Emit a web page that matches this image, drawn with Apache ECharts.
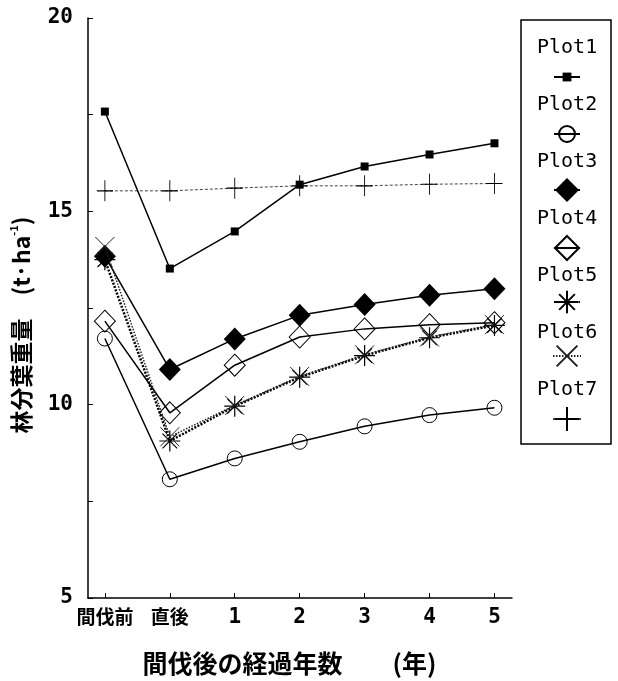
<!DOCTYPE html>
<html>
<head>
<meta charset="utf-8">
<script src="https://cdn.jsdelivr.net/npm/echarts@6/dist/echarts.min.js"></script>
<style>
  html, body { margin: 0; padding: 0; background: #fff; }
  #chart { width: 618px; height: 681px; }
</style>
</head>
<body>
<div id="chart"></div>
<script>
// Stand leaf biomass before and after thinning, by plot
const categories = ['間伐前', '直後', '1', '2', '3', '4', '5'];
const yTicks = [5, 10, 15, 20];

const plot1 = [17.58, 13.52, 14.48, 15.69, 16.16, 16.47, 16.76];
const plot2 = [11.71, 8.07, 8.61, 9.04, 9.44, 9.73, 9.92];
const plot3 = [13.84, 10.91, 11.70, 12.31, 12.59, 12.83, 13.00];
const plot4 = [12.16, 9.79, 11.02, 11.75, 11.96, 12.07, 12.12];
const plot5 = [13.75, 9.06, 9.96, 10.71, 11.27, 11.73, 12.05];
const plot6 = [14.09, 9.17, 9.98, 10.73, 11.29, 11.75, 12.07];
const plot7 = [15.53, 15.53, 15.60, 15.66, 15.66, 15.70, 15.72];

const seriesNames = ['Plot1', 'Plot2', 'Plot3', 'Plot4', 'Plot5', 'Plot6', 'Plot7'];
const seriesValues = [plot1, plot2, plot3, plot4, plot5, plot6, plot7];

const ASTERISK = 'path://M10,0L10,20M0,10L20,10M3,3L17,17M17,3L3,17';
const CROSS = 'path://M0,0L20,20M20,0L0,20';
const PLUS = 'path://M10,0L10,20M0,10L20,10';

const strokeOnly = { color: 'rgba(0,0,0,0)', borderColor: '#000', borderWidth: 1 };

// per-series marker and line look
const looks = [
  { symbol: 'rect', symbolSize: 8, itemStyle: { color: '#000' },
    lineStyle: { color: '#000', width: 1.5, type: 'solid' } },
  { symbol: 'circle', symbolSize: 15, itemStyle: strokeOnly,
    lineStyle: { color: '#000', width: 1.5, type: 'solid' } },
  { symbol: 'diamond', symbolSize: [22, 23], itemStyle: { color: '#000' },
    lineStyle: { color: '#000', width: 1.5, type: 'solid' } },
  { symbol: 'diamond', symbolSize: [21, 22], itemStyle: strokeOnly,
    lineStyle: { color: '#000', width: 1.5, type: 'solid' } },
  { symbol: ASTERISK, symbolSize: 21, itemStyle: { color: 'rgba(0,0,0,0)', borderColor: '#000', borderWidth: 1.2 },
    lineStyle: { color: '#000', width: 2.5, type: [2, 1.5] } },
  { symbol: CROSS, symbolSize: 19, itemStyle: { color: 'rgba(0,0,0,0)', borderColor: '#222', borderWidth: 1 },
    lineStyle: { color: '#222', width: 1.5, type: [1.5, 1.5] } },
  { symbol: PLUS, symbolSize: [16, 21], itemStyle: { color: 'rgba(0,0,0,0)', borderColor: '#000', borderWidth: 1 },
    lineStyle: { color: '#444', width: 1, type: [3, 2] } }
];

// legend icon boxes: [itemWidth, itemHeight, centre y]
const legendIcons = [
  [26, 11, 77], [26, 20, 134], [26, 30, 190], [26, 30, 248],
  [26, 28, 302], [28, 26, 356], [28, 30, 419]
];

const series = seriesNames.map((name, k) => Object.assign({
  name: name,
  type: 'line',
  z: k === 6 ? 1 : 2 + k,
  showSymbol: true,
  data: seriesValues[k].map((v, i) => [i, v])
}, looks[k]));

const legends = [{
  data: seriesNames,
  orient: 'vertical',
  left: 531,
  top: 38,
  padding: 0,
  itemWidth: 0,
  itemHeight: 0,
  itemGap: 37,
  icon: 'rect',
  selectedMode: false,
  textStyle: { fontFamily: 'DejaVu Sans Mono', fontSize: 20, lineHeight: 20, color: '#000' }
}];
legendIcons.forEach((b, k) => {
  legends.push({
    data: [seriesNames[k]],
    left: 566 - b[0] / 2,
    top: b[2] - b[1] / 2,
    padding: 0,
    itemWidth: b[0],
    itemHeight: b[1],
    selectedMode: false,
    formatter: () => '',
    textStyle: { fontSize: 1 }
  });
});

const chart = echarts.init(document.getElementById('chart'), null, { renderer: 'canvas' });
chart.setOption({
  animation: false,
  backgroundColor: '#fff',
  grid: { left: 88, right: 106, top: 18, bottom: 83 },
  legend: legends,
  graphic: [{
    type: 'rect',
    shape: { x: 521, y: 20, width: 90, height: 424 },
    style: { fill: 'none', stroke: '#000', lineWidth: 1.5 },
    silent: true
  }],
  xAxis: {
    type: 'value',
    min: -0.26,
    max: 6.27,
    splitLine: { show: false },
    axisLine: { onZero: false, lineStyle: { color: '#000', width: 1.5 } },
    axisTick: { inside: true, length: 5, lineStyle: { color: '#000' },
      customValues: categories.map((c, i) => i) },
    axisLabel: {
      customValues: categories.map((c, i) => i),
      margin: 9,
      formatter: v => {
        const c = categories[Math.round(v)];
        return /^\d+$/.test(c) ? '{n|' + c + '}' : '{j|' + c + '}';
      },
      rich: {
        n: { fontFamily: 'DejaVu Sans Mono', fontWeight: 'bold', fontSize: 21, color: '#000' },
        j: { fontFamily: 'Noto Sans CJK JP', fontWeight: 'bold', fontSize: 19, color: '#000' }
      }
    },
    name: '間伐後の経過年数　　(年)',
    nameLocation: 'middle',
    nameGap: 53,
    nameTextStyle: { fontFamily: 'Noto Sans CJK JP', fontWeight: 'bold', fontSize: 25,
      color: '#000', padding: [0, 21, 0, 0] }
  },
  yAxis: {
    type: 'value',
    min: 5,
    max: 20,
    interval: 2.5,
    splitLine: { show: false },
    axisLine: { show: true, onZero: false, lineStyle: { color: '#000', width: 1.5 } },
    axisTick: { show: true, inside: true, length: 5, lineStyle: { color: '#000' } },
    axisLabel: {
      margin: 15,
      formatter: v => (yTicks.indexOf(v) >= 0 ? String(v) : ''),
      fontFamily: 'DejaVu Sans Mono', fontWeight: 'bold', fontSize: 21, color: '#000'
    },
    name: '{t|林分葉重量　(t·ha}{s|-1}{t|)}',
    nameLocation: 'middle',
    nameGap: 54,
    nameTextStyle: {
      padding: [0, 34, 0, 0],
      rich: {
        t: { fontFamily: 'Noto Sans CJK JP', fontWeight: 'bold', fontSize: 23, lineHeight: 26, color: '#000' },
        s: { fontFamily: 'Noto Sans CJK JP', fontWeight: 'bold', fontSize: 11, lineHeight: 12, verticalAlign: 'top', color: '#000' }
      }
    }
  },
  series: series
});
</script>
</body>
</html>
